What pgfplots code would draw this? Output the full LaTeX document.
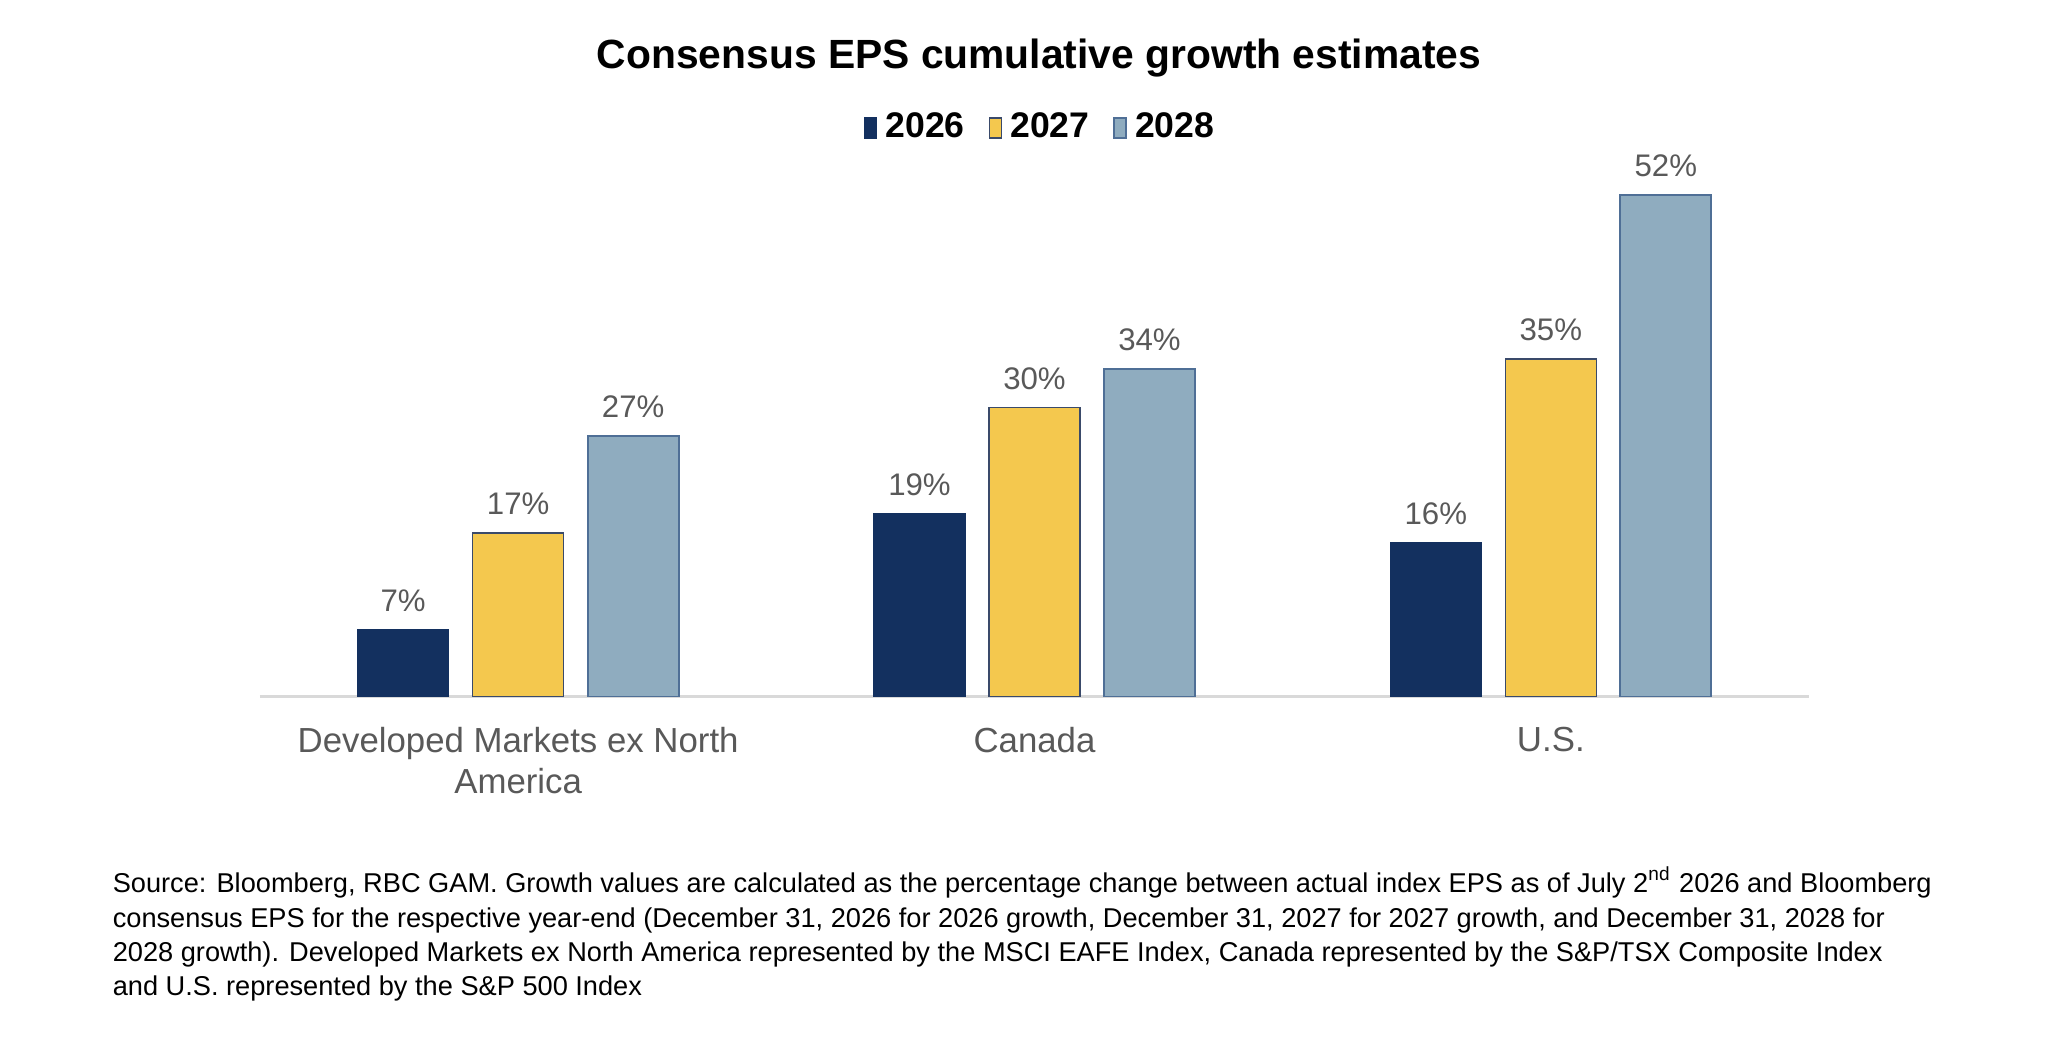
\documentclass[border=0pt]{standalone}
\usepackage{pgfplots}
\pgfplotsset{compat=1.18}
\usepackage{fontspec}
\setmainfont{Liberation Sans}
\definecolor{navy}{HTML}{13305F}
\definecolor{gold}{HTML}{F4C84E}
\definecolor{goldedge}{HTML}{3A4A6A}
\definecolor{steel}{HTML}{8FACBF}
\definecolor{steeledge}{HTML}{4F6F96}
\definecolor{labelgray}{HTML}{595959}
\definecolor{axisgray}{HTML}{D9D9D9}
\begin{document}
\begin{tikzpicture}
\useasboundingbox (-65pt,-86.75pt) rectangle (452.5pt,174.25pt);
\begin{axis}[
  scale only axis, width=387.25pt, height=144.75pt,
  xmin=-0.5, xmax=2.5, ymin=0, ymax=60,
  ybar, bar width=22.75pt,
  /pgf/number format/assume math mode=true,
  axis x line=bottom, axis y line=none,
  x axis line style={draw=axisgray, line width=0.75pt, -},
  xtick={0,1,2},
  xticklabels={{Developed Markets ex North\\America},Canada,U.S.},
  xtick style={draw=none},
  xticklabel style={font=\fontsize{8.7}{10.25}\selectfont, text=labelgray, align=center, yshift=-2pt},
  ytick=\empty,
  nodes near coords={\pgfmathprintnumber{\pgfplotspointmeta}\%},
  nodes near coords style={font=\fontsize{7.8}{9}\selectfont, text=labelgray, anchor=south, yshift=1pt},
  legend style={at={(axis description cs:0.5055,0.983)}, anchor=center, draw=none, fill=none,
    legend columns=3, font=\bfseries\fontsize{8.9}{10}\selectfont,
    /tikz/every even column/.append style={column sep=4pt}},
  legend image code/.code={\draw[#1,line width=0.4pt] (0pt,-2.5pt) rectangle (3pt,2.5pt);},
  legend cell align=left,
]
\addplot[fill=navy, draw=navy, line width=0.4pt, bar shift=-28.75pt] coordinates {(0,7) (1,19) (2,16)};
\addplot[fill=gold, draw=goldedge, line width=0.4pt, bar shift=0pt] coordinates {(0,17) (1,30) (2,35)};
\addplot[fill=steel, draw=steeledge, line width=0.5pt, bar shift=28.75pt] coordinates {(0,27) (1,34) (2,52)};
\legend{2026,2027,2028}
\end{axis}
\node[font=\bfseries\fontsize{10.2}{13}\selectfont] at (194.75pt,159.75pt) {Consensus EPS cumulative growth estimates};
\node[anchor=north west, align=left, font=\fontsize{6.8}{8.6}\selectfont, inner sep=0pt] at (-37pt,-42.25pt) {Source: Bloomberg, RBC GAM. Growth values are calculated as the percentage change between actual index EPS as of July 2\textsuperscript{nd} 2026 and Bloomberg\\
consensus EPS for the respective year-end (December 31, 2026 for 2026 growth, December 31, 2027 for 2027 growth, and December 31, 2028 for\\
2028 growth). Developed Markets ex North America represented by the MSCI EAFE Index, Canada represented by the S\&P/TSX Composite Index\\
and U.S. represented by the S\&P 500 Index};
\end{tikzpicture}
\end{document}
